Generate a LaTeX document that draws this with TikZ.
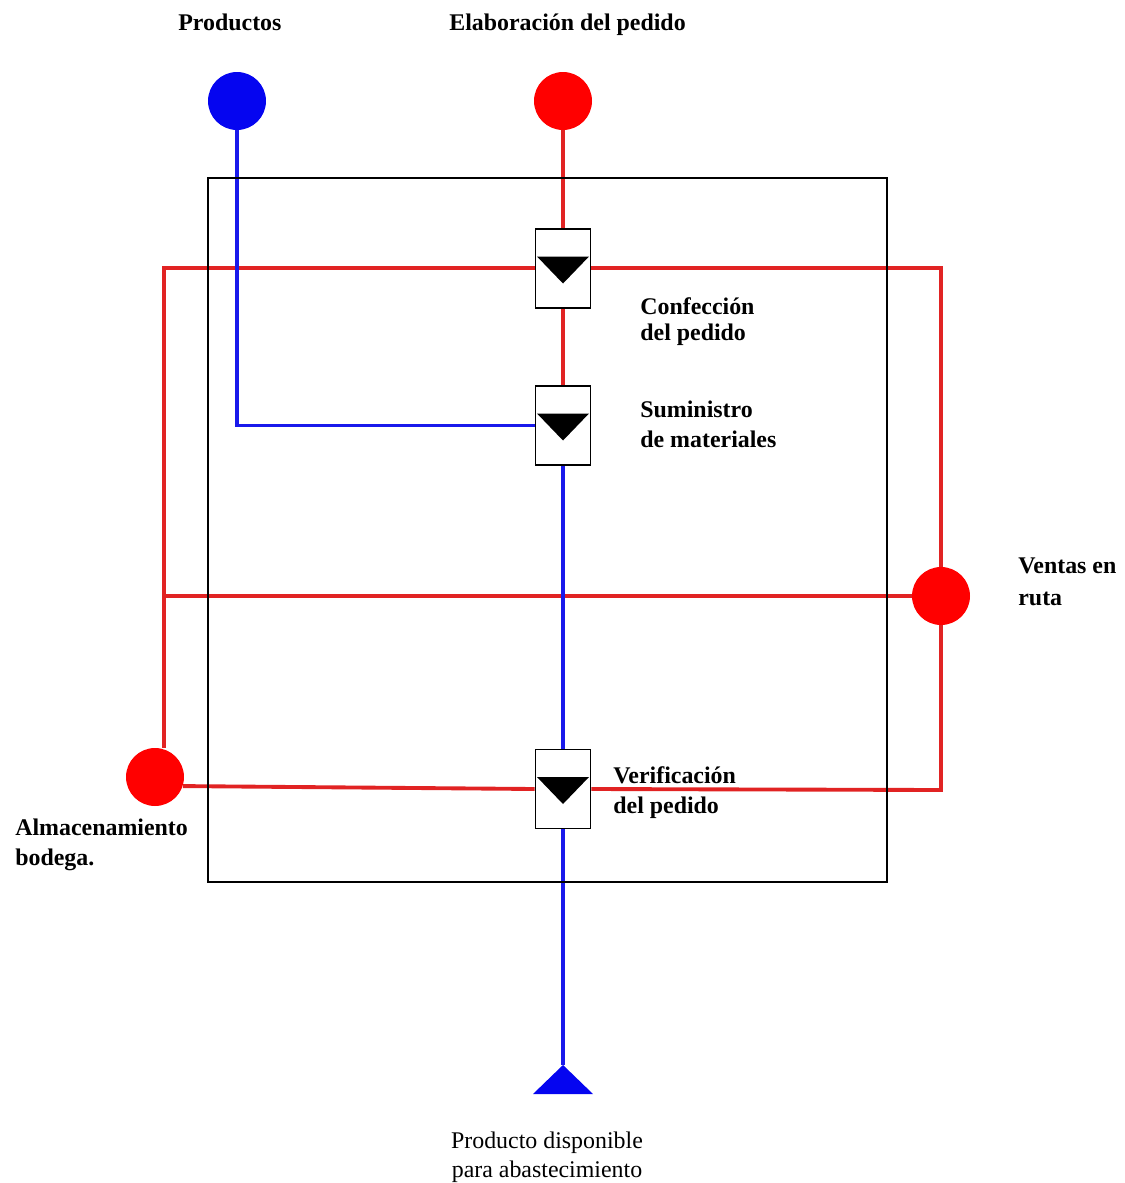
\documentclass[tikz,border=0pt]{standalone}
\usepackage{fontspec}
\setmainfont{Liberation Serif}
\usetikzlibrary{calc}
\pgfdeclarelayer{background}
\pgfsetlayers{background,main}
\definecolor{linered}{RGB}{225,35,35}
\definecolor{dotred}{RGB}{255,0,0}
\definecolor{lineblue}{RGB}{25,25,235}
\definecolor{dotblue}{RGB}{5,5,240}
\tikzset{
  redline/.style={draw=linered,line width=2.2pt},
  blueline/.style={draw=lineblue,line width=2.2pt},
  dot/.style={circle,inner sep=0pt,minimum size=1.16cm,draw=none},
  valvebox/.style={rectangle,draw=black,fill=white,line width=1pt,minimum width=1.1cm,minimum height=1.58cm,inner sep=0pt},
  lbl/.style={anchor=base west,inner sep=0pt,font=\fontsize{13.6}{17}\selectfont\bfseries},
  lblplain/.style={anchor=base,inner sep=0pt,font=\fontsize{13.6}{17}\selectfont}
}
\begin{document}
\begin{tikzpicture}[x=0.02cm,y=-0.02cm]
\useasboundingbox (0,0) rectangle (1125,1183);
% frame
\draw[black,line width=0.9pt] (208,178) rectangle (887,882);
% nodes
\node[dot,fill=dotblue] (prod) at (237,101) {};
\node[dot,fill=dotred] (elab) at (563,101) {};
\node[dot,fill=dotred] (ventas) at (941,596) {};
\node[dot,fill=dotred] (alm) at (155,777) {};
\node[valvebox] (v1) at (563,268.5) {};
\node[valvebox] (v2) at (563,425.5) {};
\node[valvebox] (v3) at (563,789) {};
\foreach \v in {v1,v2,v3}{
  \fill[black] ([shift={(-26,-12)}]\v.center) -- ([shift={(26,-12)}]\v.center) -- ([shift={(0,15)}]\v.center) -- cycle;
}
\coordinate (tri) at (563,1065);
\fill[dotblue] (tri) -- ++(30,29) -- ++(-60,0) -- cycle;
\coordinate (TL) at (164,268);
\coordinate (TR) at (941,268);
\coordinate (ML) at (164,596);
\coordinate (BR) at (941,790);
% connectors
\begin{pgfonlayer}{background}
\draw[redline,line cap=rect] (TL) -- (TR);
\draw[redline] (TL) -- (TL |- alm.north);
\draw[redline] (TR) -- (ventas);
\draw[redline,line cap=rect] (ventas) -- (BR);
\draw[redline] (BR) -- (v3.east);
\draw[redline] (ML) -- (ventas);
\draw[redline] (alm.-18) -- (v3.west);
\draw[redline] (elab) -- (v1);
\draw[redline] (v1) -- (v2);
\draw[blueline] (prod) |- (v2.west);
\draw[blueline] (v2) -- (v3);
\draw[blueline] (v3) -- (tri);
\end{pgfonlayer}
% labels
\node[lbl] (tprod) at (178,31) {Productos};
\node[lbl] (telab) at (449,31) {Elaboración del pedido};
\node[lbl] (tconf1) at (640,314) {Confección};
\node[lbl] (tconf2) at (640,340) {del pedido};
\node[lbl] (tsum1) at (640,417) {Suministro};
\node[lbl] (tsum2) at (640,447) {de materiales};
\node[lbl] (tven1) at (1018,573) {Ventas en};
\node[lbl] (tven2) at (1018,605) {ruta};
\node[lbl] (tver1) at (613,783) {Verificación};
\node[lbl] (tver2) at (613,813) {del pedido};
\node[lbl] (talm1) at (15,835) {Almacenamiento};
\node[lbl] (talm2) at (15,865) {bodega.};
\node[lblplain] (tpd1) at (547,1148) {Producto disponible};
\node[lblplain] (tpd2) at (547,1177) {para abastecimiento};
\end{tikzpicture}
\end{document}
